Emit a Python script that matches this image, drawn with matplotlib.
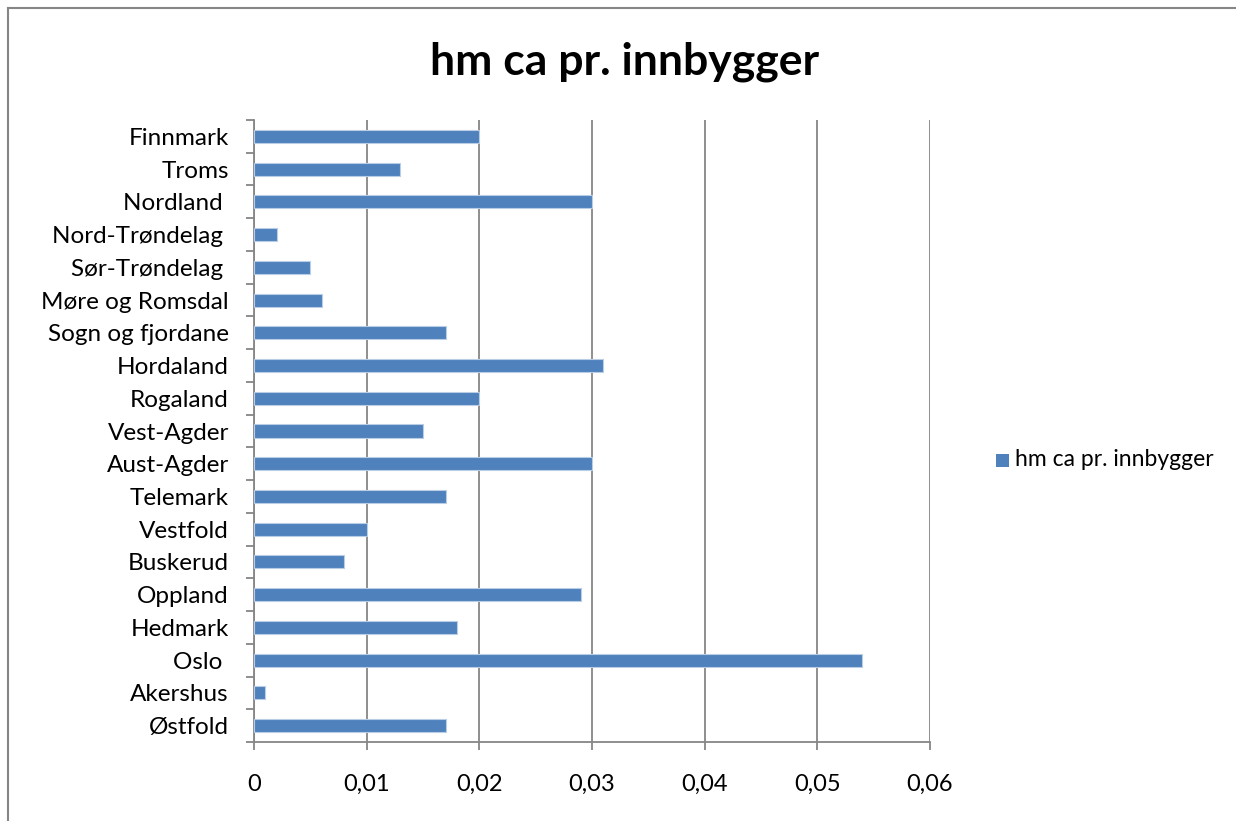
import matplotlib
matplotlib.use("Agg")
import matplotlib.pyplot as plt
from matplotlib.patches import Rectangle
from matplotlib.lines import Line2D

plt.rcParams['font.family'] = ['Lato', 'DejaVu Sans']

title = "hm ca pr. innbygger"
series_name = "hm ca pr. innbygger"
categories = ["Østfold", "Akershus", "Oslo ", "Hedmark", "Oppland", "Buskerud",
              "Vestfold", "Telemark", "Aust-Agder", "Vest-Agder", "Rogaland",
              "Hordaland", "Sogn og fjordane", "Møre og Romsdal", "Sør-Trøndelag ",
              "Nord-Trøndelag ", "Nordland ", "Troms", "Finnmark"]
values = [0.017, 0.001, 0.054, 0.018, 0.029, 0.008, 0.010, 0.017, 0.030, 0.015,
          0.020, 0.031, 0.017, 0.006, 0.005, 0.002, 0.030, 0.013, 0.020]
xticks = [0, 0.01, 0.02, 0.03, 0.04, 0.05, 0.06]
xticklabels = ["0", "0,01", "0,02", "0,03", "0,04", "0,05", "0,06"]

W, H = 1236, 821
fig = plt.figure(figsize=(W / 100, H / 100), dpi=100)
ax = fig.add_axes([254 / W, 1 - 742 / H, (930 - 254) / W, (742 - 120) / H])

grid_c = "#868686"
n = len(categories)
ax.barh(range(n), values, height=0.4, color="#4F81BD", edgecolor="#B9CDE5",
        linewidth=0.8, zorder=3)
ax.set_ylim(-0.5, n - 0.5)
ax.set_xlim(0, 0.06)
ax.set_xticks(xticks)
ax.set_xticklabels(xticklabels, fontsize=17)
ax.set_yticks(range(n))
ax.set_yticklabels(categories, fontsize=17.5)
ax.tick_params(axis='y', length=0, pad=18)
ax.tick_params(axis='x', length=6, width=1.3, color=grid_c, pad=17)
# minor ticks between categories
ax.set_yticks([i - 0.5 for i in range(n + 1)], minor=True)
ax.tick_params(axis='y', which='minor', length=6, width=1.3, color=grid_c)
ax.xaxis.grid(True, color=grid_c, linewidth=1.3, zorder=0)
for s in ['top', 'right']:
    ax.spines[s].set_visible(False)
for s in ['left', 'bottom']:
    ax.spines[s].set_color(grid_c)
    ax.spines[s].set_linewidth(1.3)

fig.text(625 / W, 1 - 62 / H, title, fontsize=32, fontweight='bold',
         ha='center', va='center')

# legend
fig.patches.append(Rectangle((996 / W, 1 - 467 / H), 13 / W, 13 / H,
                             transform=fig.transFigure, facecolor="#4F81BD",
                             edgecolor="none"))
fig.text(1015 / W, 1 - 460 / H, series_name, fontsize=16.5, ha='left', va='center')

# outer chart border (partially cropped)
fig.add_artist(Line2D([8 / W, 8 / W], [0, 1 - 8 / H], transform=fig.transFigure,
                      color="#868686", linewidth=1.5))
fig.add_artist(Line2D([8 / W, 1], [1 - 8 / H, 1 - 8 / H], transform=fig.transFigure,
                      color="#868686", linewidth=1.5))

fig.savefig("out.png", dpi=100)
